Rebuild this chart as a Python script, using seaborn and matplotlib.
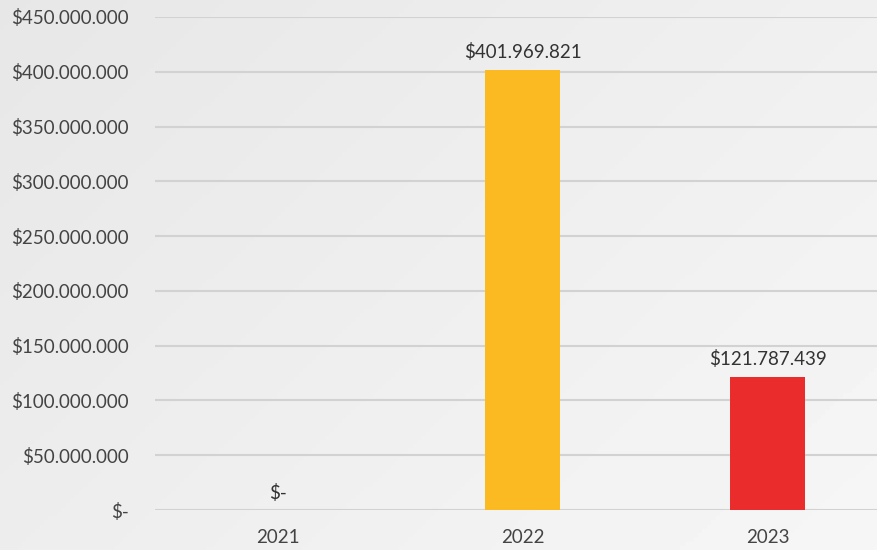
import matplotlib
matplotlib.use("Agg")
import matplotlib.pyplot as plt
import numpy as np
import pandas as pd
import seaborn as sns
from matplotlib.ticker import FuncFormatter

years = ["2021", "2022", "2023"]
values = [0, 401969821, 121787439]
colors = ["#FBBA22", "#FBBA22", "#EA2C2C"]
y_ticks = list(range(0, 450000001, 50000000))

df = pd.DataFrame({"year": years, "value": values})

sns.set_theme(style="white")
plt.rcParams["font.family"] = ["Lato", "DejaVu Sans"]

def money(v, pos=None):
    if v == 0:
        return "$-"
    return "$" + f"{int(round(v)):,}".replace(",", ".")

fig = plt.figure(figsize=(8.78, 5.5), dpi=100)

# soft grey backdrop, lighter toward the lower right
bg = fig.add_axes([0, 0, 1, 1], zorder=-10)
gx, gy = np.meshgrid(np.linspace(0, 1, 200), np.linspace(0, 1, 130))
shade = 0.905 + 0.06 * (0.6 * gx + 0.4 * gy)
bg.imshow(shade, cmap="gray", vmin=0, vmax=1, aspect="auto", origin="upper")
bg.axis("off")

ax = fig.add_axes([155 / 878, 40 / 550, 735 / 878, 493 / 550])
ax.patch.set_alpha(0)

sns.barplot(data=df, x="year", y="value", hue="year", palette=colors,
            width=0.31, legend=False, ax=ax, saturation=1, linewidth=0)

ax.set_ylim(0, 450000000)
ax.set_yticks(y_ticks)
ax.yaxis.set_major_formatter(FuncFormatter(money))
ax.grid(axis="y", color="#d2d2d2", linewidth=1.5)
ax.set_axisbelow(True)
for s in ax.spines.values():
    s.set_visible(False)
ax.tick_params(axis="y", length=0, pad=19, labelsize=13.5, labelcolor="#444444")
ax.tick_params(axis="x", length=0, pad=14, labelsize=13.5, labelcolor="#444444")
ax.set_xlabel("")
ax.set_ylabel("")

for i, v in enumerate(values):
    ax.annotate(money(v), (i, v), xytext=(0, 6), textcoords="offset points",
                ha="center", va="bottom", fontsize=13.5, color="#333333")

fig.savefig("out.png", dpi=100)
